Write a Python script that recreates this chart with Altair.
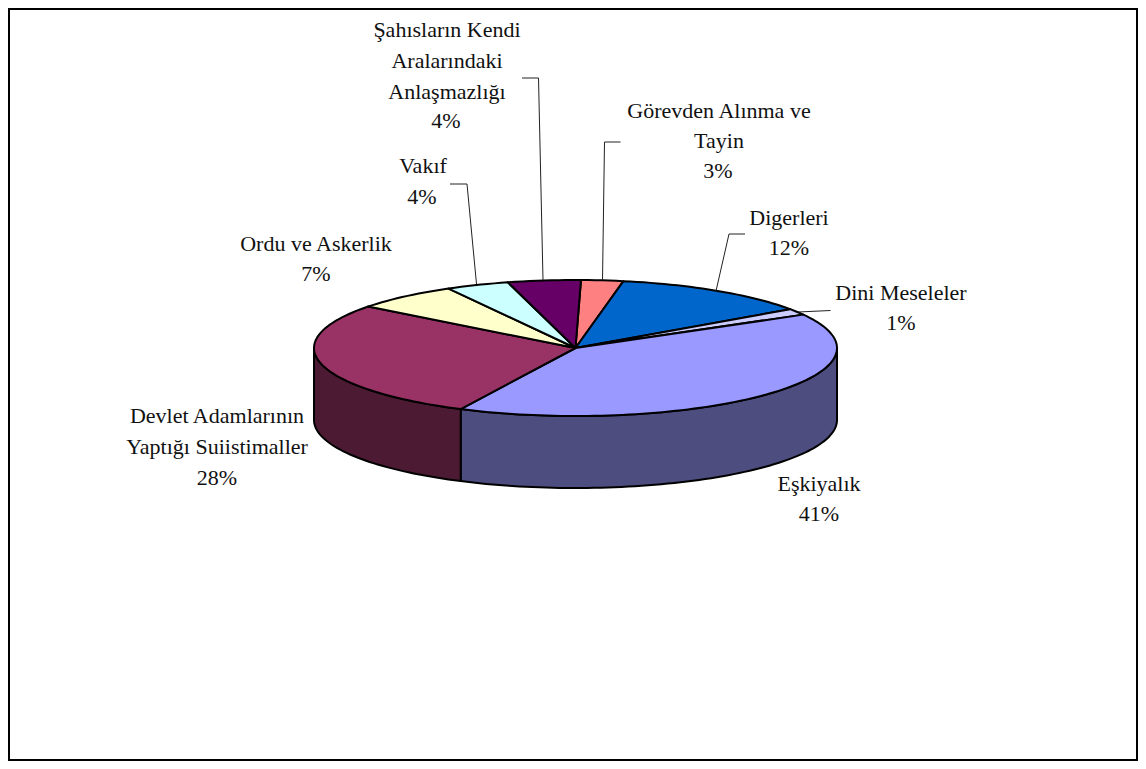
import math
import altair as alt
import pandas as pd

# Slice data, clockwise from the top of the pie
names = ["Görevden Alınma ve Tayin", "Digerleri", "Dini Meseleler", "Eşkiyalık",
         "Devlet Adamlarının Yaptığı Suiistimaller", "Ordu ve Askerlik", "Vakıf",
         "Şahısların Kendi Aralarındaki Anlaşmazlığı"]
shares = [2.6, 12.4, 1.5, 40.4, 28.2, 6.5, 3.9, 4.5]
top_colors = ["#FF8080", "#0066CC", "#CCCCFF", "#9999FF", "#993366", "#FFFFCC", "#CCFFFF", "#660066"]
side_colors = ["#804040", "#003366", "#666680", "#4D4D80", "#4D1A33", "#808066", "#668080", "#330033"]

# Label text, split in lines, with the centre of each line
label_lines = ["Şahısların Kendi", "Aralarındaki", "Anlaşmazlığı", "4%",
               "Görevden Alınma ve", "Tayin", "3%",
               "Digerleri", "12%",
               "Dini Meseleler", "1%",
               "Eşkiyalık", "41%",
               "Devlet Adamlarının", "Yaptığı Suiistimaller", "28%",
               "Ordu ve Askerlik", "7%",
               "Vakıf", "4%"]
label_x = [447, 447, 447, 446, 719, 719, 718, 789, 789, 901, 901, 819, 819, 217, 217, 217, 316, 316, 423, 422]
label_y = [30, 61, 92, 121, 111, 141, 171, 218, 248, 293, 323, 484, 514, 416, 447, 478, 244, 274, 166, 197]

# Leader lines
leader_id = [0, 0, 0, 1, 1, 1, 2, 2, 2, 3, 3, 3, 4, 4]
leader_x = [522, 538.5, 543, 620.5, 604.5, 602.5, 450, 467, 476.5, 745, 729, 716, 830.5, 798]
leader_y = [78, 78, 280, 142, 142, 280, 184, 184, 284, 234, 234, 291, 310.5, 312]

# Pie geometry
cx, cy, rx, ry, depth = 575.5, 348.0, 261.5, 68.0, 72.0
start = 1.2

def pt(t, dz=0.0):
    r = math.radians(t)
    return cx + rx * math.sin(r), cy - ry * math.cos(r) + dz

def arc(a, b):
    n = max(2, int(abs(b - a) / 1.5))
    return [a + (b - a) * i / n for i in range(n + 1)]

tops, sides = [], []
a = start
for name, share, c_top, c_side in zip(names, shares, top_colors, side_colors):
    b = a + share * 3.6
    poly = [(cx, cy)] + [pt(t) for t in arc(a, b)] + [(cx, cy)]
    for i, (x, y) in enumerate(poly):
        tops.append(dict(s=name, i=i, x=x, y=y, c=c_top))
    lo, hi = max(a, 90), min(b, 270)
    if lo < hi:
        ts = arc(lo, hi)
        poly = [pt(t) for t in ts] + [pt(t, depth) for t in reversed(ts)]
        poly.append(poly[0])
        for i, (x, y) in enumerate(poly):
            sides.append(dict(s=name, i=i, x=x, y=y, c=c_side))
    a = b

W, H = 1130, 753
X = alt.X("x:Q", scale=alt.Scale(domain=[8, 8 + W], range=[0, W], nice=False, zero=False), axis=None)
Y = alt.Y("y:Q", scale=alt.Scale(domain=[8, 8 + H], range=[0, H], nice=False, zero=False), axis=None)

def polys(rows, sw):
    return alt.Chart(pd.DataFrame(rows)).mark_line(
        stroke="black", strokeWidth=sw, strokeJoin="round", clip=False
    ).encode(
        x=X, y=Y, detail="s:N", order="i:Q",
        fill=alt.Fill("c:N", scale=None),
    )

frame = alt.Chart(pd.DataFrame({"x": [9.0], "x2": [1137.0], "y": [9.0], "y2": [760.0]})).mark_rect(
    fill="white", stroke="black", strokeWidth=2
).encode(x=X, x2="x2:Q", y=Y, y2="y2:Q")

leaders = alt.Chart(pd.DataFrame({"id": leader_id, "i": range(len(leader_id)), "x": leader_x, "y": leader_y})).mark_line(
    stroke="#222222", strokeWidth=1
).encode(x=X, y=Y, detail="id:N", order="i:Q")

labels = alt.Chart(pd.DataFrame({"t": label_lines, "x": label_x, "y": label_y})).mark_text(
    font="Liberation Serif", fontSize=22, color="#111111", align="center", baseline="middle"
).encode(x=X, y=Y, text="t:N")

chart = alt.layer(frame, polys(sides, 2), polys(tops, 2), leaders, labels).properties(
    width=W, height=H, padding=0, autosize=alt.AutoSizeParams(type="none")
).configure_view(stroke=None)

chart.save("out.html", embed_options={"renderer": "svg", "actions": False})
